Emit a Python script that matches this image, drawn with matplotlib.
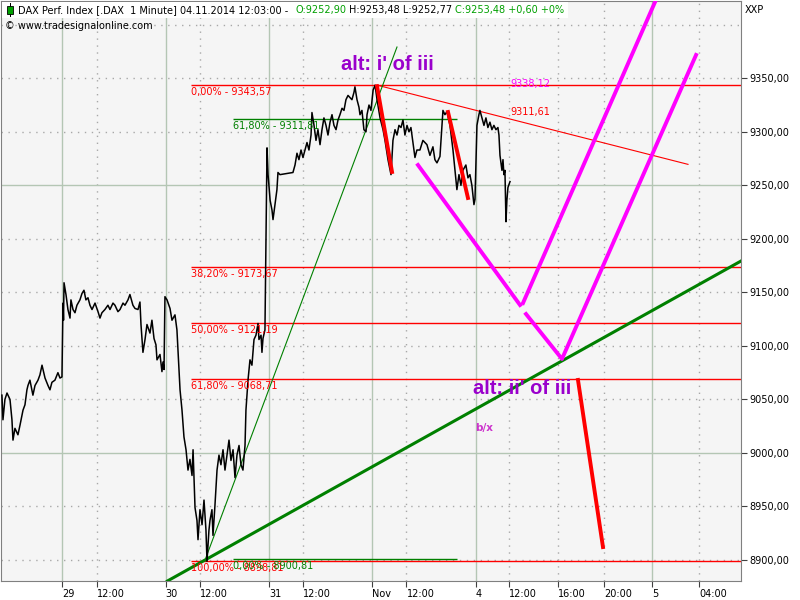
import matplotlib
matplotlib.use("Agg")
import matplotlib.pyplot as plt
from matplotlib.patches import Rectangle
from matplotlib.ticker import FuncFormatter

# x axis in trading days: 0 = open 29.10., 1 = 30.10., 2 = 31.10., 3 = 03.11., 4 = 04.11.
price_time = [
    -0.586, -0.576, -0.557, -0.537, -0.508, -0.489, -0.479, -0.460, -0.431, -0.411,
    -0.382, -0.363, -0.344, -0.334, -0.315, -0.286, -0.266, -0.237, -0.218, -0.198,
    -0.169, -0.140, -0.121, -0.102, -0.073, -0.044, -0.024, -0.005,
    0.005, 0.010, 0.015, 0.034, 0.053, 0.073, 0.082, 0.102, 0.121, 0.140,
    0.169, 0.189, 0.208, 0.227, 0.247, 0.266, 0.286, 0.315, 0.344, 0.363,
    0.382, 0.411, 0.440, 0.460, 0.489, 0.508, 0.537, 0.557, 0.586, 0.605,
    0.634, 0.653, 0.682, 0.702, 0.731, 0.750, 0.760, 0.779, 0.799, 0.818,
    0.847, 0.866, 0.886, 0.905, 0.915, 0.944, 0.963, 0.973, 0.983,
    0.992, 1.012, 1.041, 1.060, 1.089, 1.108, 1.118, 1.138, 1.157, 1.176,
    1.196, 1.215, 1.234, 1.254, 1.264, 1.283, 1.302, 1.312, 1.331, 1.351,
    1.370, 1.389, 1.399, 1.418, 1.428, 1.447, 1.457, 1.476, 1.496, 1.515,
    1.534, 1.554, 1.573, 1.592, 1.612, 1.631, 1.651, 1.670, 1.689, 1.709,
    1.728, 1.747, 1.767, 1.776, 1.796, 1.815, 1.834, 1.854, 1.873, 1.893,
    1.902, 1.922, 1.931, 1.941, 1.960,
    1.980, 1.990, 2.010, 2.028, 2.038, 2.057, 2.076, 2.086, 2.105, 2.231,
    2.251, 2.270, 2.289, 2.309, 2.328, 2.347, 2.367, 2.386, 2.406, 2.415,
    2.435, 2.454, 2.473, 2.493, 2.512, 2.531, 2.551, 2.570, 2.590, 2.609,
    2.628, 2.648, 2.667, 2.686, 2.706, 2.725, 2.744, 2.764, 2.783, 2.802,
    2.822, 2.831, 2.851, 2.870, 2.880, 2.899, 2.918, 2.938, 2.948, 2.967, 2.986,
    3.007, 3.026, 3.045, 3.074, 3.103, 3.122, 3.151, 3.180, 3.199, 3.219,
    3.238, 3.257, 3.277, 3.296, 3.315, 3.335, 3.354, 3.373, 3.393, 3.412,
    3.431, 3.460, 3.489, 3.528, 3.557, 3.586, 3.605, 3.625, 3.654, 3.683,
    3.702, 3.722, 3.751, 3.780, 3.799, 3.818, 3.838, 3.857, 3.876, 3.905,
    3.925, 3.944, 3.963, 3.983, 3.993,
    4.012, 4.031, 4.041, 4.060, 4.080, 4.099, 4.118, 4.138, 4.157, 4.176,
    4.196, 4.215, 4.225, 4.235, 4.254, 4.264, 4.273, 4.283, 4.293, 4.302,
    4.312, 4.332,
]
price_close = [
    9054, 9031, 9050, 9056, 9050, 9031, 9012, 9023, 9017, 9026,
    9040, 9045, 9059, 9063, 9068, 9054, 9063, 9068, 9073, 9082,
    9070, 9063, 9059, 9066, 9068, 9075, 9070, 9071,
    9140, 9124, 9159, 9148, 9134, 9126, 9143, 9134, 9131, 9138,
    9143, 9149, 9152, 9143, 9145, 9138, 9134, 9140, 9132, 9126,
    9131, 9134, 9138, 9134, 9140, 9138, 9132, 9134, 9140, 9138,
    9143, 9148, 9138, 9135, 9134, 9141, 9120, 9094, 9106, 9120,
    9112, 9124, 9107, 9101, 9087, 9092, 9076, 9085, 9078,
    9146, 9143, 9135, 9124, 9129, 9115, 9096, 9059, 9040, 9015,
    9003, 8984, 8994, 8979, 9003, 8949, 8937, 8919, 8947, 8933,
    8956, 8928, 8898.81, 8928, 8937, 8947, 8923, 8951, 8984, 8998,
    8989, 9003, 8984, 8998, 9012, 8993, 9003, 8977, 8998, 9007,
    8989, 8984, 9007, 9040, 9068, 9087, 9082, 9106, 9110, 9121,
    9106, 9110, 9094, 9107, 9115,
    9285, 9260, 9236, 9227, 9218, 9232, 9246, 9262, 9260, 9262,
    9269, 9280, 9274, 9283, 9276, 9283, 9290, 9283, 9297, 9318,
    9306, 9292, 9302, 9288, 9302, 9313, 9306, 9297, 9309, 9316,
    9306, 9302, 9311, 9316, 9322, 9320, 9330, 9334, 9332, 9330,
    9337, 9342, 9330, 9323, 9316, 9320, 9302, 9300, 9316, 9325, 9320,
    9339, 9343.57, 9330, 9313, 9302, 9292, 9274, 9260, 9292, 9302,
    9297, 9306, 9304, 9311, 9297, 9306, 9300, 9304, 9290, 9276,
    9283, 9283, 9292, 9288, 9278, 9286, 9274, 9271, 9277, 9320,
    9316, 9319, 9306, 9283, 9264, 9246, 9260, 9250, 9264, 9269,
    9257, 9260, 9250, 9232, 9237,
    9306, 9316, 9320, 9313, 9306, 9313, 9304, 9309, 9302, 9306,
    9302, 9304, 9297, 9278, 9264, 9274, 9260, 9264, 9216, 9236,
    9248, 9253.48,
]

fib_red_levels = [9343.57, 9173.67, 9121.19, 9068.71, 8898.81]
fib_red_labels = ['0,00% - 9343,57', '38,20% - 9173,67', '50,00% - 9121,19',
                  '61,80% - 9068,71', '100,00% - 8898,81']
fib_green_levels = [9311.81, 8900.81]
fib_green_labels = ['61,80% - 9311,81', '0,00% - 8900,81']

resist_line = ([3.045, 6.055], [9343.6, 9269.6])
steep_support = ([1.380, 3.238], [8900.0, 9379.2])
long_support = ((1.380, 8900.0), (6.568, 9179.3))

red_moves = [
    ([3.045, 3.190], [9342.6, 9262.5]),
    ([3.732, 3.925], [9318.5, 9238.2]),
    ([4.990, 5.232], [9068.2, 8912.1]),
]
magenta_paths = [
    ([3.441, 4.429], [9269.0, 9138.2]),
    ([4.458, 5.787], [9140.1, 9432.5]),
    ([4.487, 4.835, 6.133], [9129.8, 9087.8, 9371.8]),
]

tick_pos = [0, 0.334, 1.0, 1.332, 2.0, 2.33, 3.0, 3.33, 4.0, 4.325, 4.794, 5.245, 5.704, 6.163]
tick_lbl = ['29', '12:00', '30', '12:00', '31', '12:00', 'Nov', '12:00', '4', '12:00',
            '16:00', '20:00', '5', '04:00']
day_lines = [0, 1, 2, 3, 4, 5.704]
hour_lines = [0.334, 1.332, 2.33, 3.33, 4.325, 4.794, 5.245, 6.163]
solid_prices = [9000, 9250]
dotted_prices = [8900, 8950, 9050, 9100, 9150, 9200, 9300, 9350, 9400]

RED = '#ff0000'
GREEN = '#008000'
MAGENTA = '#ff00ff'
PURPLE = '#9a00cc'
GRIDC = '#b4c6b4'
SMALL = 7

fig = plt.figure(figsize=(8, 6), dpi=100)
ax = fig.add_axes([1 / 800, 19 / 600, 740 / 800, 580 / 600])
ax.set_facecolor('#f5f5f5')
ax.set_xlim(-0.595, 6.568)
ax.set_ylim(8880.4, 9422.2)

# grid
for x in day_lines:
    ax.axvline(x, color=GRIDC, lw=1, zorder=0)
for x in hour_lines:
    ax.axvline(x, color='#a8a8a8', lw=1, ls=(0, (1, 4)), zorder=0)
for y in solid_prices:
    ax.axhline(y, color=GRIDC, lw=1, zorder=0)
for y in dotted_prices:
    ax.axhline(y, color='#a8a8a8', lw=1, ls=(0, (1, 4)), zorder=0)

# fibonacci
ax.hlines(fib_red_levels, 1.240, 6.568, colors=RED, lw=1, zorder=2)
for lvl, lbl in zip(fib_red_levels, fib_red_labels):
    ax.annotate(lbl, (1.240, lvl), xytext=(0, -1.5), textcoords='offset points',
                va='top', ha='left', color=RED, fontsize=SMALL, zorder=4)
ax.hlines(fib_green_levels, 1.651, 3.818, colors=GREEN, lw=1, zorder=2)
for lvl, lbl in zip(fib_green_levels, fib_green_labels):
    ax.annotate(lbl, (1.651, lvl), xytext=(0, -1.5), textcoords='offset points',
                va='top', ha='left', color=GREEN, fontsize=SMALL, zorder=4)

# trend lines
ax.plot(*resist_line, color=RED, lw=0.8, zorder=2)
ax.plot(*steep_support, color=GREEN, lw=0.8, zorder=2)
ax.axline(*long_support, color=GREEN, lw=2.2, zorder=3)

ax.plot(price_time, price_close, color='black', lw=1.1, zorder=3)

for xs, ys in red_moves:
    ax.plot(xs, ys, color=RED, lw=2.8, zorder=5)
for xs, ys in magenta_paths:
    ax.plot(xs, ys, color=MAGENTA, lw=2.8, zorder=5)

# annotations
ax.text(2.696, 9357.8, "alt: i' of iii", color=PURPLE, fontsize=14.5, fontweight='bold',
        family='Liberation Sans', va='baseline', zorder=6)
ax.text(3.974, 9055.1, "alt: ii' of iii", color=PURPLE, fontsize=14.5, fontweight='bold',
        family='Liberation Sans', va='baseline', zorder=6)
ax.text(3.993, 9023.3, 'b/x', color='#cc33cc', fontsize=7.5, fontweight='bold',
        va='center', zorder=6)
ax.text(4.332, 9344.7, '9338,12', color=MAGENTA, fontsize=SMALL, va='center', zorder=6)
ax.text(4.332, 9318.5, '9311,61', color=RED, fontsize=SMALL, va='center', zorder=6)

# axes styling
for s in ax.spines.values():
    s.set_color('#808080')
ax.yaxis.tick_right()
ax.set_yticks(range(8900, 9351, 50))
ax.yaxis.set_major_formatter(FuncFormatter(lambda v, p: f'{v:.2f}'.replace('.', ',')))
ax.set_xticks(tick_pos)
ax.set_xticklabels(tick_lbl, ha='left')
ax.tick_params(axis='both', direction='out', length=4, color='#404040',
               labelsize=SMALL, pad=2)
for lbl in ax.get_xticklabels():
    lbl.set_x(lbl.get_position()[0])

# header
fig.add_artist(Rectangle((2 / 800, 1 - 18 / 600), 566 / 800, 16 / 600,
                         transform=fig.transFigure, facecolor='white', edgecolor='none'))
fig.add_artist(Rectangle((9.5 / 800, 1 - 17 / 600), 1 / 800, 14 / 600,
                         transform=fig.transFigure, facecolor='black', edgecolor='none'))
fig.add_artist(Rectangle((7 / 800, 1 - 14 / 600), 6 / 800, 8 / 600,
                         transform=fig.transFigure, facecolor='#00a000', edgecolor='black', lw=0.6))
header = [
    (18, 'DAX Perf. Index [.DAX  1 Minute] 04.11.2014 12:03:00 -', 'black'),
    (295, 'O:9252,90', '#00a000'),
    (349, 'H:9253,48 L:9252,77', 'black'),
    (455, 'C:9253,48 +0,60 +0%', '#00a000'),
]
for px, txt, col in header:
    fig.text(px / 800, 1 - 10 / 600, txt, color=col, fontsize=SMALL, va='center')
fig.text(5 / 800, 1 - 26 / 600, '\u00a9 www.tradesignalonline.com', fontsize=SMALL, va='center')
fig.text(745 / 800, 1 - 10 / 600, 'XXP', fontsize=SMALL, va='center')

fig.savefig('out.png', dpi=100)
